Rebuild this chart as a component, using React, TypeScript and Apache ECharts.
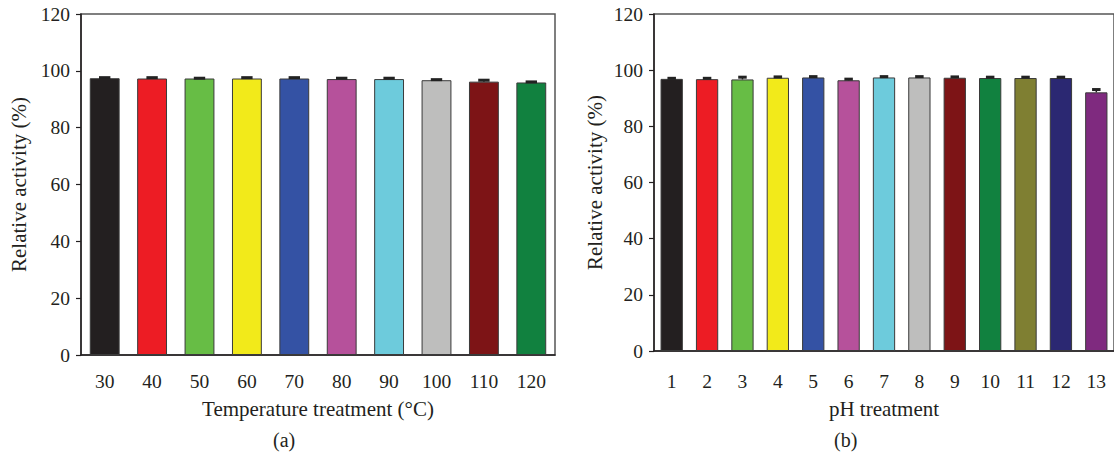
import React, { useEffect, useRef } from "react";
import * as echarts from "echarts";

const tempCategories = ["30", "40", "50", "60", "70", "80", "90", "100", "110", "120"];
const tempActivity = [97.4, 97.3, 97.3, 97.3, 97.3, 97.1, 97.1, 96.7, 96.2, 95.9];
const tempError = [0.2, 0.3, 0.1, 0.3, 0.3, 0.3, 0.3, 0.2, 0.5, 0.2];
const tempColors = ["#231f20", "#ed1c24", "#67bd45", "#f2ea1a", "#3452a4", "#b6519b", "#6dcbdc", "#bebebd", "#7d1416", "#11813f"];

const phCategories = ["1", "2", "3", "4", "5", "6", "7", "8", "9", "10", "11", "12", "13"];
const phActivity = [96.9, 96.8, 96.7, 97.3, 97.4, 96.4, 97.4, 97.4, 97.3, 97.2, 97.2, 97.2, 92.1];
const phError = [0.2, 0.3, 0.8, 0.3, 0.3, 0.4, 0.3, 0.3, 0.3, 0.3, 0.3, 0.3, 1.0];
const phColors = ["#231f20", "#ed1c24", "#67bd45", "#f2ea1a", "#3452a4", "#b6519b", "#6dcbdc", "#bebebd", "#7d1416", "#11813f", "#7f7f32", "#2b2872", "#7f2a7f"];

const yTicks = { min: 0, max: 120, interval: 20 };
const FONT = "Liberation Serif";

function errorRender(params: any, api: any) {
  const x = api.value(0);
  const y = api.value(1);
  const e = api.value(2);
  const base = api.coord([x, y]);
  const top = api.coord([x, y + e]);
  const w = api.size([1, 0])[0] * 0.24;
  return {
    type: "group",
    children: [
      { type: "line", shape: { x1: top[0], y1: base[1], x2: top[0], y2: top[1] }, style: { stroke: "#222", lineWidth: 1.5 } },
      { type: "line", shape: { x1: top[0] - w / 2, y1: top[1], x2: top[0] + w / 2, y2: top[1] }, style: { stroke: "#222", lineWidth: 3 } },
    ],
  };
}

function xAxis(gridIndex: number, cats: string[], name: string, labelMargin: number, nameGap: number) {
  return {
    type: "category",
    gridIndex,
    data: cats,
    name,
    nameLocation: "middle",
    nameGap,
    nameTextStyle: { fontFamily: FONT, fontSize: 21, color: "#231f20" },
    axisLine: { lineStyle: { color: "#231f20", width: 1.5 } },
    axisTick: { alignWithLabel: true, length: 5, lineStyle: { color: "#231f20", width: 1.2 } },
    axisLabel: { fontFamily: FONT, fontSize: 19.5, color: "#231f20", margin: labelMargin },
  };
}

function yAxis(gridIndex: number, nameGap: number) {
  return {
    type: "value",
    gridIndex,
    ...yTicks,
    name: "Relative activity (%)",
    nameLocation: "middle",
    nameGap,
    nameTextStyle: { fontFamily: FONT, fontSize: 21, color: "#231f20" },
    axisLine: { show: true, lineStyle: { color: "#231f20", width: 1.5 } },
    axisTick: { show: true, length: 5, lineStyle: { color: "#231f20", width: 1.2 } },
    axisLabel: { fontFamily: FONT, fontSize: 19.5, color: "#231f20", margin: 11 },
    splitLine: { show: false },
  };
}

export default function App() {
  const ref = useRef<HTMLDivElement>(null);
  useEffect(() => {
    if (!ref.current) return;
    const chart = echarts.init(ref.current, undefined, { renderer: "svg" });
    chart.setOption({
      animation: false,
      backgroundColor: "#ffffff",
      grid: [
        { left: 81, top: 14, width: 474, height: 341, show: true, borderColor: "#555", borderWidth: 1.5 },
        { left: 654, top: 14, width: 465, height: 337, show: true, borderColor: "#555", borderWidth: 1.5 },
      ],
      xAxis: [
        xAxis(0, tempCategories, "Temperature treatment (°C)", 16, 43),
        xAxis(1, phCategories, "pH treatment", 20, 47),
      ],
      yAxis: [yAxis(0, 52), yAxis(1, 49)],
      series: [
        {
          type: "bar",
          xAxisIndex: 0,
          yAxisIndex: 0,
          barWidth: "63%",
          data: tempActivity.map((v, i) => ({ value: v, itemStyle: { color: tempColors[i] } })),
          itemStyle: { borderColor: "#3a3a3a", borderWidth: 1 },
        },
        {
          type: "custom",
          xAxisIndex: 0,
          yAxisIndex: 0,
          renderItem: errorRender,
          data: tempActivity.map((v, i) => [i, v, tempError[i]]),
          z: 5,
        },
        {
          type: "bar",
          xAxisIndex: 1,
          yAxisIndex: 1,
          barWidth: "63%",
          data: phActivity.map((v, i) => ({ value: v, itemStyle: { color: phColors[i] } })),
          itemStyle: { borderColor: "#3a3a3a", borderWidth: 1 },
        },
        {
          type: "custom",
          xAxisIndex: 1,
          yAxisIndex: 1,
          renderItem: errorRender,
          data: phActivity.map((v, i) => [i, v, phError[i]]),
          z: 5,
        },
      ],
      graphic: [
        { type: "text", left: 273, top: 430, style: { text: "(a)", fontFamily: FONT, fontSize: 20, fill: "#231f20" } },
        { type: "text", left: 834, top: 430, style: { text: "(b)", fontFamily: FONT, fontSize: 20, fill: "#231f20" } },
      ],
    });
    return () => chart.dispose();
  }, []);
  return <div ref={ref} style={{ position: "fixed", left: 0, top: 0, width: 1114, height: 458 }} />;
}
